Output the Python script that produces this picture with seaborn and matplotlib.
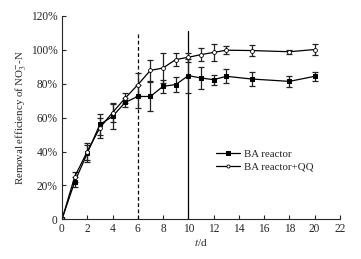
import numpy as np
import matplotlib
matplotlib.use('Agg')
import matplotlib.pyplot as plt
import seaborn as sns
import pandas as pd

# data
days = [0, 1, 2, 3, 4, 5, 6, 7, 8, 9, 10, 11, 12, 13, 15, 18, 20]
ba = [0, 22, 39, 56, 60.7, 69, 72.5, 72.5, 78.5, 79.5, 84.8, 83.4, 82.4, 84.4, 82.8, 81.4, 84.4]
ba_err = [0, 3, 5, 6, 7.5, 2.7, 6.9, 8.6, 4, 4.5, 10, 6.5, 3, 4.1, 4, 3.2, 2.5]
qq = [0, 25, 40, 54, 63, 71.5, 79.4, 87.9, 89.3, 94.3, 95.6, 97.2, 98.5, 99.8, 99.6, 98.9, 100.2]
qq_err = [0, 3, 5, 6, 5.5, 3, 6.9, 6.3, 8.7, 4, 2.5, 4, 5.2, 2.2, 3, 1.2, 3]
x_ticks = list(range(0, 23, 2))
y_ticks = [0, 20, 40, 60, 80, 100, 120]
y_labels = ['0', '20%', '40%', '60%', '80%', '100%', '120%']

sns.set_style('ticks')
plt.rcParams['font.family'] = ['Liberation Serif', 'DejaVu Serif']
plt.rcParams['mathtext.fontset'] = 'stix'
plt.rcParams['xtick.direction'] = 'in'
plt.rcParams['ytick.direction'] = 'in'

df = pd.DataFrame({'t': days, 'BA': ba, 'QQ': qq})

fig = plt.figure(figsize=(3.61, 2.59), dpi=100)
ax = fig.add_axes([0.1717, 0.1533, 0.77, 0.785])

# vertical markers at day 6 and day 10
ax.plot([6, 6], [0, 110.5], color='black', lw=0.9, ls=(0, (3, 2)))
ax.plot([10, 10], [0, 111], color='black', lw=0.9)

ax.errorbar(days, ba, yerr=ba_err, fmt='none', ecolor='#222222', elinewidth=0.9, capsize=2, capthick=0.9)
ax.errorbar(days, qq, yerr=qq_err, fmt='none', ecolor='#222222', elinewidth=0.9, capsize=2, capthick=0.9)

sns.lineplot(data=df, x='t', y='BA', ax=ax, color='black', lw=0.9, marker='s', markersize=2.8,
             markerfacecolor='black', markeredgecolor='black', label='BA reactor')
sns.lineplot(data=df, x='t', y='QQ', ax=ax, color='black', lw=0.9, marker='o', markersize=2.8,
             markerfacecolor='white', markeredgecolor='black', markeredgewidth=0.6, label='BA reactor+QQ')

ax.set_xlim(0, 22)
ax.set_ylim(0, 120)
ax.set_xticks(x_ticks)
ax.set_yticks(y_ticks)
ax.set_yticklabels(y_labels)
ax.tick_params(labelsize=8.3, length=3, width=0.8, pad=3)
for s in ['top', 'right']:
    ax.spines[s].set_visible(False)
for s in ['left', 'bottom']:
    ax.spines[s].set_linewidth(0.8)

ax.set_xlabel('$t$/d', fontsize=8, labelpad=1)
ax.set_ylabel('Removal efficiency of NO$_3^{-}$-N', fontsize=7.8, labelpad=2)

ax.legend(loc='center left', bbox_to_anchor=(0.54, 0.29), frameon=False, fontsize=7.8,
          handlelength=2.2, handletextpad=0.3, labelspacing=0.3, borderaxespad=0, markerscale=0.8)

fig.savefig('out.png', dpi=100)
